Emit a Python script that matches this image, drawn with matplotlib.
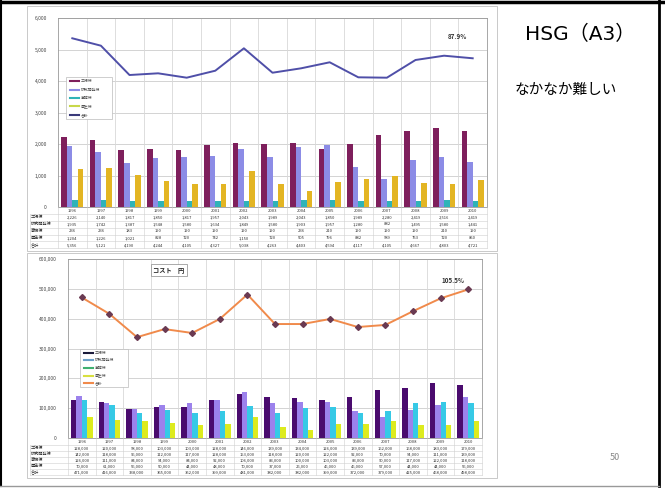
import matplotlib
matplotlib.use('Agg')
import matplotlib.pyplot as plt
import numpy as np
from matplotlib.lines import Line2D
from matplotlib.patches import Rectangle

plt.rcParams['font.family'] = ['Noto Sans CJK JP', 'DejaVu Sans']

# ---------------- data ----------------
categories = ['1996', '1997', '1998', '1999', '2000', '2001', '2002', '2003',
              '2004', '2005', '2006', '2007', '2008', '2009', '2010']
series_names = ['工場棟', '研究開発棟', '事務棟', '厚生棟', '合計']

# upper chart (energy)
top_s1 = [2226, 2140, 1817, 1850, 1817, 1957, 2043, 1989, 2043, 1850, 1989, 2280, 2419, 2516, 2419]
top_s2 = [1935, 1742, 1387, 1548, 1580, 1634, 1849, 1580, 1903, 1957, 1280, 882, 1495, 1580, 1441]
top_s3 = [236, 236, 183, 190, 190, 190, 190, 190, 236, 210, 190, 190, 190, 210, 190]
top_s4 = [1204, 1226, 1021, 828, 720, 742, 1150, 720, 505, 796, 882, 989, 753, 720, 850]
top_total = [5356, 5121, 4190, 4244, 4105, 4327, 5038, 4263, 4403, 4594, 4117, 4105, 4667, 4803, 4721]
top_ticks = [0, 1000, 2000, 3000, 4000, 5000, 6000]
top_ratio = '87.9%'

# lower chart (cost, yen)
bot_s1 = [128000, 120000, 98000, 103000, 103000, 128000, 146000, 139000, 134000, 126000, 139000, 162000, 168000, 183000, 179000]
bot_s2 = [142000, 118000, 96000, 112000, 117000, 128000, 153000, 118000, 120000, 122000, 92000, 70000, 94000, 111000, 139000]
bot_s3 = [126000, 111000, 84000, 94000, 84000, 92000, 106000, 83000, 100000, 103000, 83000, 90000, 117000, 122000, 118000]
bot_s4 = [70000, 61000, 56000, 50000, 44000, 48000, 70000, 37000, 26000, 46000, 46000, 57000, 44000, 44000, 56000]
bot_total = [471000, 416000, 338000, 365000, 352000, 399000, 481000, 382000, 382000, 399000, 372000, 379000, 425000, 468000, 498000]
bot_ticks = [0, 100000, 200000, 300000, 400000, 500000, 600000]
bot_ratio = '105.5%'
bot_title = 'コスト　円'

slide_title = 'HSG（A3）'
slide_note = 'なかなか難しい'
page_no = '50'

# ---------------- layout helpers ----------------
W, H = 665, 488
fig = plt.figure(figsize=(6.65, 4.88), dpi=100)
fig.patch.set_facecolor('white')


def fx(x):
    return x / W


def fy(y):
    return 1 - y / H


def fline(x0, y0, x1, y1, color='#C8C8C8', lw=0.5, ls='-'):
    fig.add_artist(Line2D([fx(x0), fx(x1)], [fy(y0), fy(y1)], color=color, lw=lw, ls=ls,
                          transform=fig.transFigure))


def draw_chart(ax_px, frame_px, lab_x0, head_y, row_ys, row_bounds,
               bars, bar_colors, total, line_color, marker, marker_color,
               ticks, fmt, ratio, ratio_pos, legend_px, legend_colors):
    x0, y0, x1, y1 = ax_px
    ax = fig.add_axes([fx(x0), fy(y1), fx(x1 - x0), (y1 - y0) / H])
    n = len(categories)
    x = np.arange(n)
    bw = 0.195
    offs = [-1.5, -0.5, 0.5, 1.5]
    for vals, c, o in zip(bars, bar_colors, offs):
        ax.bar(x + o * bw, vals, width=bw, color=c, edgecolor='none', zorder=3)
    ax.plot(x, total, color=line_color, lw=1.4, zorder=4,
            marker=marker, ms=3, mfc=marker_color, mec=marker_color)
    ax.set_xlim(-0.5, n - 0.5)
    ax.set_ylim(ticks[0], ticks[-1])
    ax.set_yticks(ticks)
    ax.set_yticklabels([fmt(t) for t in ticks], fontsize=3.5, color='#444444')
    ax.set_xticks([])
    for t in ticks:
        ax.axhline(t, color='#CCCCCC', lw=0.6, zorder=1)
    for b in np.arange(n - 1) + 0.5:
        ax.axvline(b, color='#D8D8D8', lw=0.6, zorder=1)
    for s in ax.spines.values():
        s.set_color('#999999')
        s.set_linewidth(0.6)
    ax.tick_params(axis='y', length=0, pad=8)
    ax.text(ratio_pos[0], ratio_pos[1], ratio, transform=ax.transAxes,
            fontsize=4.5, fontweight='bold', color='#333333', ha='center', va='center')

    # data table
    cw = (x1 - x0) / n
    tb = row_bounds[-1]
    for i, c in enumerate(categories):
        cx = x0 + (i + 0.5) * cw
        fig.text(fx(cx), fy(head_y), c, fontsize=3, color='#333333', ha='center', va='center')
    table_vals = [bars[0], bars[1], bars[2], bars[3], total]
    for r, (name, ry) in enumerate(zip(series_names, row_ys)):
        fig.text(fx(lab_x0 + 1), fy(ry), name, fontsize=3, color='#333333', ha='left', va='center')
        for i in range(n):
            cx = x0 + (i + 0.5) * cw
            fig.text(fx(cx), fy(ry), f'{table_vals[r][i]:,}', fontsize=3, color='#333333',
                     ha='center', va='center')
    for yb in row_bounds:
        fline(lab_x0, yb, x1, yb, color='#D0D0D0', lw=0.4)
    for i in range(n + 1):
        xb = x0 + i * cw
        fline(xb, y1, xb, tb, color='#D0D0D0', lw=0.4)
    fline(lab_x0, row_bounds[0], lab_x0, tb, color='#D0D0D0', lw=0.4)

    # legend box
    lx0, ly0, lx1, ly1 = legend_px
    fig.add_artist(Rectangle((fx(lx0), fy(ly1)), fx(lx1 - lx0), (ly1 - ly0) / H,
                             transform=fig.transFigure, facecolor='white',
                             edgecolor='#BBBBBB', lw=0.5, zorder=5))
    step = (ly1 - ly0) / 5
    for k, (nm, c) in enumerate(zip(series_names, legend_colors)):
        yy = ly0 + step * (k + 0.5)
        fig.add_artist(Line2D([fx(lx0 + 4), fx(lx0 + 13)], [fy(yy), fy(yy)], color=c, lw=1.5,
                              transform=fig.transFigure, zorder=6))
        fig.text(fx(lx0 + 15), fy(yy), nm, fontsize=2.8, color='#555555', va='center', zorder=6)

    # image frame
    fx0, fy0, fx1, fy1 = frame_px
    fig.add_artist(Rectangle((fx(fx0), fy(fy1)), fx(fx1 - fx0), (fy1 - fy0) / H,
                             transform=fig.transFigure, facecolor='none',
                             edgecolor='#C0C0C0', lw=0.6))
    return ax


top_colors = ['#7E1F5C', '#8C8CE6', '#2FB3B8', '#E3B523']
draw_chart((58, 18, 487, 207), (27, 6, 497, 251), 30, 211,
           [217, 224, 231, 238, 245], [214, 220.5, 227.5, 234.5, 241.5, 248],
           [top_s1, top_s2, top_s3, top_s4], top_colors, top_total,
           '#4F4FA8', None, '#4F4FA8', top_ticks, lambda t: f'{t:,}',
           top_ratio, (0.93, 0.9), (66, 77, 112, 119),
           top_colors[:3] + ['#C8D84A', '#3A3A7A'])

bot_colors = ['#4A0B6E', '#9C82EC', '#36C9E6', '#DDEB1E']
ax2 = draw_chart((68, 259, 482, 438), (27, 253, 497, 478), 30, 442,
                 [448, 454, 460, 466, 472], [445, 451, 457, 463, 469, 475],
                 [bot_s1, bot_s2, bot_s3, bot_s4], bot_colors, bot_total,
                 '#F08A4B', 'D', '#6A3A52', bot_ticks, lambda t: f'{t:,}',
                 bot_ratio, (0.93, 0.88), (80, 349, 128, 387),
                 ['#1A1A3A', '#6CA0C8', '#3FB070', '#D8E040', '#F08A4B'])
fig.text(fx(153), fy(270), bot_title, fontsize=4.5, color='#222222', va='center', ha='left',
         fontweight='bold',
         bbox=dict(boxstyle='square,pad=0.4', fc='white', ec='#888888', lw=0.5))

# right-hand slide text
fig.text(fx(580), fy(34), slide_title, fontsize=14.5, ha='center', va='center', color='black',
         family=['DejaVu Sans', 'Noto Sans CJK JP'])
fig.text(fx(566), fy(90), slide_note, fontsize=10.5, ha='center', va='center', color='black')
fig.text(fx(615), fy(458), page_no, fontsize=6.5, ha='center', va='center', color='#888888')

# slide frame
fline(0, 1.5, W, 1.5, color='black', lw=2.5)
fline(659, 0, 659, 486, color='black', lw=2)
fline(1, 0, 1, 486, color='black', lw=1.5)
fline(0, 486, 659, 486, color='#999999', lw=1)

fig.savefig('out.png', dpi=100)
